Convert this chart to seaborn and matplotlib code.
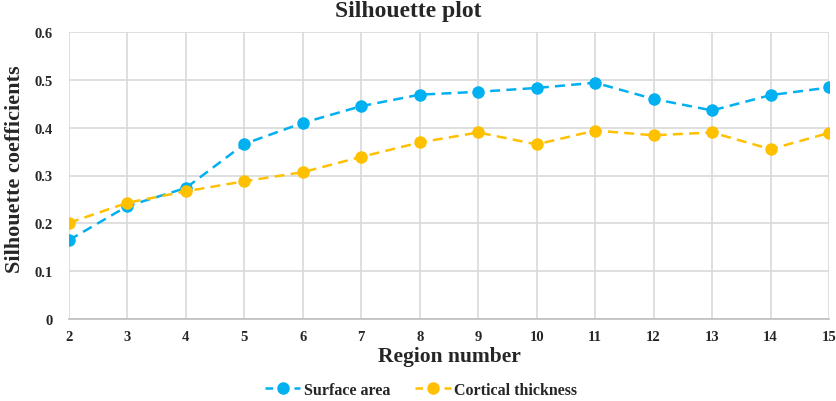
import matplotlib
matplotlib.use("Agg")
import matplotlib.pyplot as plt
import seaborn as sns
import pandas as pd

regions = [2, 3, 4, 5, 6, 7, 8, 9, 10, 11, 12, 13, 14, 15]
surface_area = [0.165, 0.236, 0.274, 0.366, 0.410, 0.445, 0.469, 0.475, 0.483, 0.494, 0.460, 0.436, 0.468, 0.484]
cortical_thickness = [0.201, 0.243, 0.267, 0.288, 0.307, 0.339, 0.369, 0.390, 0.365, 0.394, 0.384, 0.390, 0.355, 0.389]
series_names = ["Surface area", "Cortical thickness"]
y_ticks = [0, 0.1, 0.2, 0.3, 0.4, 0.5, 0.6]
y_tick_labels = ["0", "0.1", "0.2", "0.3", "0.4", "0.5", "0.6"]

df = pd.DataFrame({
    "Region": regions * 2,
    "Value": surface_area + cortical_thickness,
    "Series": [series_names[0]] * len(regions) + [series_names[1]] * len(regions),
})

sns.set_theme(style="white")
plt.rcParams["font.family"] = ["Liberation Serif", "DejaVu Serif"]
plt.rcParams["font.weight"] = "bold"

W, H = 837, 402
fig = plt.figure(figsize=(W / 100, H / 100), dpi=100)
ax = fig.add_axes([69 / W, 1 - 320 / H, (829 - 69) / W, (320 - 33) / H])

palette = {series_names[0]: "#00B0F0", series_names[1]: "#FFC000"}
sns.lineplot(data=df, x="Region", y="Value", hue="Series", palette=palette,
             marker="o", markersize=9, markeredgewidth=0, linewidth=1.8,
             dashes=False, ax=ax, zorder=3, legend=True)
for line in ax.get_lines():
    line.set_linestyle((0, (4, 2.5)))

ax.set_xlim(2, 15)
ax.set_ylim(0, 0.6)
ax.set_xticks(regions)
ax.set_xticklabels([str(r) for r in regions])
ax.set_yticks(y_ticks)
ax.set_yticklabels(y_tick_labels)
ax.grid(True, color="#D9D9D9", linewidth=1.2)
ax.set_axisbelow(True)
for s in ["top", "right", "left"]:
    ax.spines[s].set_visible(False)
ax.spines["bottom"].set_color("#BFBFBF")
ax.spines["bottom"].set_linewidth(1.2)
ax.tick_params(axis="both", length=0, labelsize=10.5)
ax.tick_params(axis="x", pad=8)
ax.tick_params(axis="y", pad=12)
for lbl in ax.get_xticklabels() + ax.get_yticklabels():
    lbl.set_fontweight("bold")

fig.text(408 / W, 1 - 12 / H, "Silhouette plot", fontsize=17, fontweight="bold",
         ha="center", va="center")
ax.set_xlabel("Region number", fontsize=15.5, fontweight="bold")
ax.xaxis.set_label_coords(0.5, -(357 - 320) / 287)
ax.xaxis.label.set_va("center")
ax.set_ylabel("Silhouette coefficients", fontsize=16, fontweight="bold")
ax.yaxis.set_label_coords(-(69 - 25) / 760, (320 - 169) / 287)

handles, labels = ax.get_legend_handles_labels()
ax.get_legend().remove()
for h in handles:
    h.set_linestyle((0, (3, 2.8)))
fig.legend(handles, labels, loc="center", bbox_to_anchor=(421 / W, 1 - 391 / H),
           ncol=2, frameon=False, prop={"weight": "bold", "size": 11.5},
           handlelength=2.2, columnspacing=1.6, handletextpad=0.2,
           borderaxespad=0, borderpad=0)

fig.savefig("out.png", dpi=100)
